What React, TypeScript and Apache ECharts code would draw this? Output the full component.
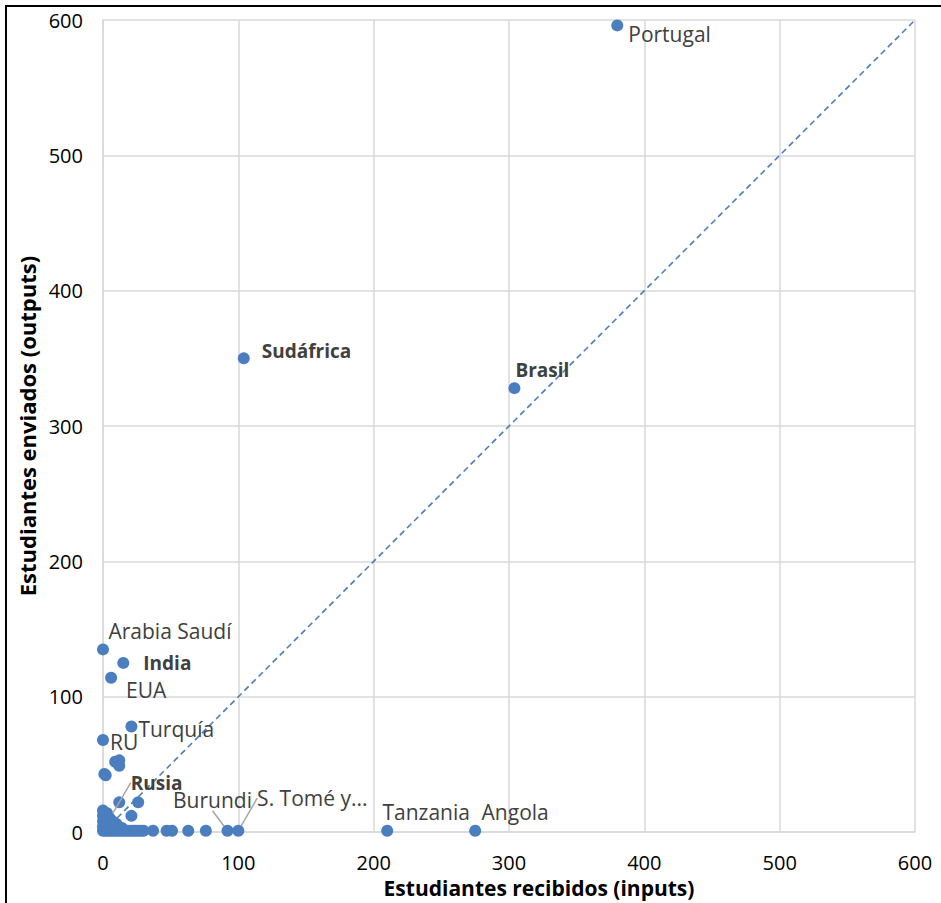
import React, { useEffect, useRef } from "react";
import * as echarts from "echarts";

// Labelled countries
const labelNames = [
  "Portugal", "Sudáfrica", "Brasil", "Arabia Saudí", "India", "EUA", "Turquía",
  "RU", "Rusia", "Burundi", "S. Tomé y...", "Tanzania", "Angola",
];
const labelInputs = [380, 104, 304, 0, 15, 6, 21, 0, 5, 92, 100, 210, 275];
const labelOutputs = [596, 350, 328, 135, 125, 114, 78, 68, 10, 1, 1, 1, 1];

// Unlabelled countries
const otherInputs = [
  9, 12, 12, 1, 2, 12, 26, 21, 0, 0, 0, 0, 0, 3, 6, 8, 10, 14, 2, 4, 6, 8, 10,
  12, 14, 16, 18, 20, 22, 24, 26, 28, 30, 37, 47, 51, 63, 76, 1, 4, 7, 3,
];
const otherOutputs = [
  52, 53, 49, 43, 42, 22, 22, 12, 16, 12, 8, 4, 1, 6, 4, 2, 6, 3, 1, 1, 1, 1, 1,
  1, 1, 1, 1, 1, 1, 1, 1, 1, 1, 1, 1, 1, 1, 1, 9, 11, 8, 14,
];

// Identity line endpoints
const diagonal = [0, 600];

const xTicks = [0, 100, 200, 300, 400, 500, 600];

const FONT = "'Open Sans', 'Noto Sans', sans-serif";
const BLUE = "#4a7ebf";

const boldNames = ["Sudáfrica", "Brasil", "India", "Rusia"];
const labelPosition: Record<string, string> = {
  Portugal: "right",
  "Sudáfrica": "right",
  Brasil: "top",
  "Arabia Saudí": "top",
  India: "right",
  EUA: "right",
  "Turquía": "right",
  RU: "right",
  Rusia: "right",
  Burundi: "top",
  "S. Tomé y...": "top",
  Tanzania: "top",
  Angola: "top",
};
const labelShift: Record<string, [number, number]> = {
  Portugal: [0, 9],
  "Sudáfrica": [7, -7],
  Brasil: [28, 2],
  "Arabia Saudí": [67, 3],
  India: [9, 0],
  EUA: [4, 12],
  "Turquía": [-4, 2],
  RU: [-4, 2],
  Rusia: [10, -36],
  Burundi: [-15, -9],
  "S. Tomé y...": [74, -11],
  Tanzania: [39, 3],
  Angola: [40, 3],
};
const withLeader = ["Rusia", "Burundi", "S. Tomé y..."];

export default function App() {
  const ref = useRef<HTMLDivElement>(null);
  useEffect(() => {
    if (!ref.current) return;
    const chart = echarts.init(ref.current, null, { renderer: "svg" });
    const labelled = labelNames.map((n, i) => ({
      name: n,
      value: [labelInputs[i], labelOutputs[i]],
      label: {
        show: true,
        formatter: n,
        position: labelPosition[n],
        fontWeight: boldNames.includes(n) ? "bold" : "normal",
        color: "#404040",
        fontSize: boldNames.includes(n) ? 19 : 21,
        fontFamily: FONT,
      },
      labelLine: withLeader.includes(n)
        ? { show: true, lineStyle: { color: "#a6a6a6", width: 1.5 } }
        : { show: false },
    }));
    const others = otherInputs.map((x, i) => [x, otherOutputs[i]]);
    chart.setOption({
      animation: false,
      backgroundColor: "#fff",
      textStyle: { fontFamily: FONT },
      grid: { left: 103, right: 26, top: 20, bottom: 66, containLabel: false },
      xAxis: {
        type: "value",
        min: xTicks[0],
        max: xTicks[xTicks.length - 1],
        interval: 100,
        name: "Estudiantes recibidos (inputs)",
        nameLocation: "middle",
        nameGap: 37,
        nameTextStyle: {
          fontSize: 21,
          fontWeight: "bold",
          color: "#000",
          fontFamily: FONT,
          padding: [0, 0, 0, 60],
        },
        axisLine: { show: true, lineStyle: { color: "#d9d9d9", width: 1.5 } },
        axisTick: { show: false },
        axisLabel: { fontSize: 20, color: "#000", margin: 20, fontFamily: FONT },
        splitLine: { show: true, lineStyle: { color: "#d9d9d9", width: 1.5 } },
      },
      yAxis: {
        type: "value",
        min: 0,
        max: 600,
        interval: 100,
        name: "Estudiantes enviados (outputs)",
        nameLocation: "middle",
        nameGap: 61,
        nameRotate: 90,
        nameTextStyle: { fontSize: 22, fontWeight: "bold", color: "#000", fontFamily: FONT },
        axisLine: { show: true, lineStyle: { color: "#d9d9d9", width: 1.5 } },
        axisTick: { show: false },
        axisLabel: { fontSize: 20, color: "#000", margin: 20, fontFamily: FONT },
        splitLine: { show: true, lineStyle: { color: "#d9d9d9", width: 1.5 } },
      },
      series: [
        {
          type: "line",
          data: [[diagonal[0], diagonal[0]], [diagonal[1], diagonal[1]]],
          symbol: "none",
          lineStyle: { color: BLUE, width: 1.6, type: [6, 4] },
          z: 1,
          silent: true,
        },
        {
          type: "scatter",
          data: others,
          symbolSize: 12,
          itemStyle: { color: BLUE, opacity: 1 },
          z: 2,
        },
        {
          type: "scatter",
          data: labelled,
          symbolSize: 12,
          itemStyle: { color: BLUE, opacity: 1 },
          labelLayout: (p: any) => {
            const s = labelShift[labelNames[p.dataIndex]];
            return s ? { dx: s[0], dy: s[1] } : {};
          },
          z: 3,
        },
      ],
    });
    return () => chart.dispose();
  }, []);
  return (
    <div
      style={{
        position: "fixed",
        left: 0,
        top: 0,
        width: 941,
        height: 903,
        overflow: "hidden",
        background: "#fff",
      }}
    >
      <div ref={ref} style={{ width: 941, height: 903 }} />
      <div
        style={{
          position: "absolute",
          left: 5,
          top: 5,
          width: 1000,
          height: 1000,
          borderLeft: "2px solid #000",
          borderTop: "2px solid #000",
          pointerEvents: "none",
        }}
      />
    </div>
  );
}
